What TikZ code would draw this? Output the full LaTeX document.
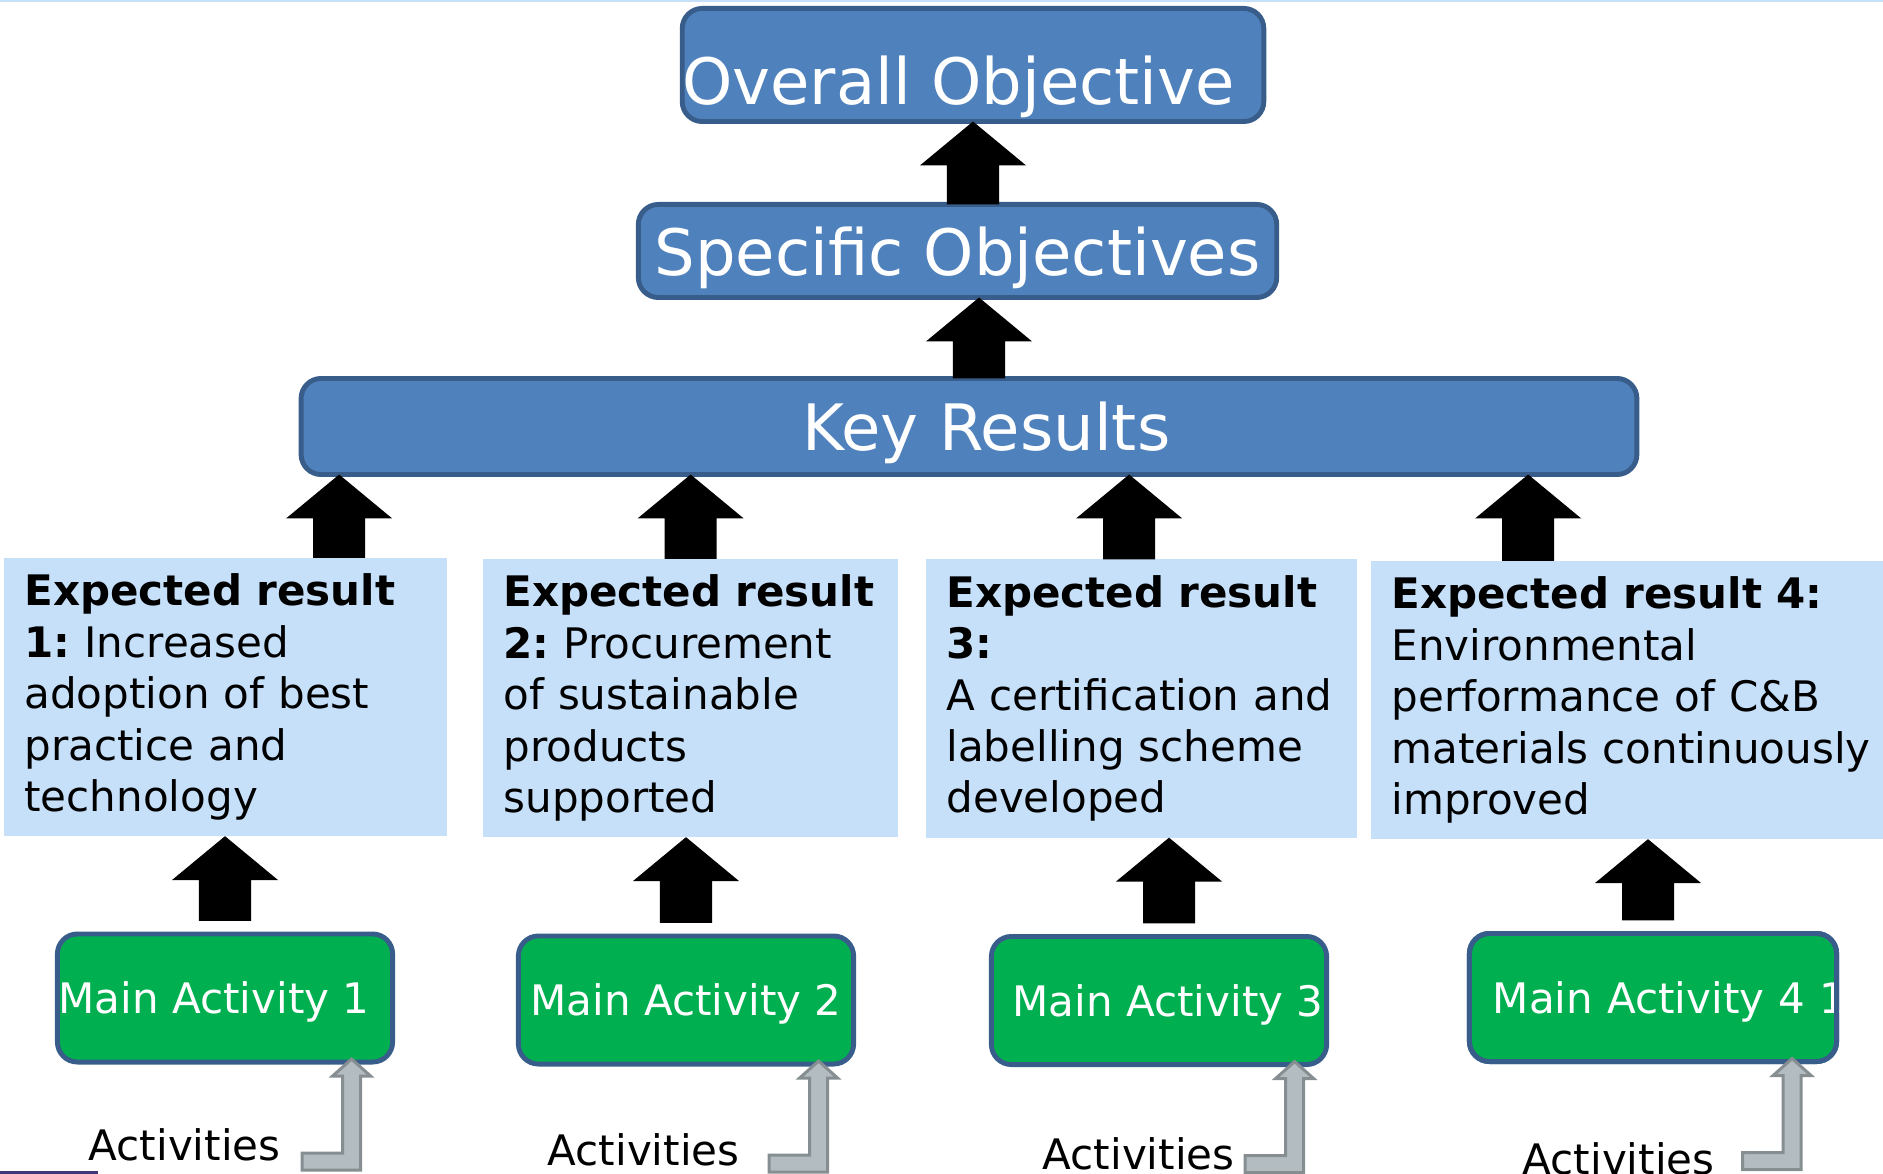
\documentclass[tikz,border=0pt]{standalone}
\usepackage{fontspec}
\setmainfont{DejaVu Sans}
\usepackage{xcolor}
\usepackage{tikz}
\usetikzlibrary{calc, positioning}
\frenchspacing

\definecolor{boxblue}{HTML}{4F81BD}
\definecolor{edgeblue}{HTML}{385D8A}
\definecolor{resblue}{HTML}{C6E0FA}
\definecolor{actgreen}{HTML}{00B050}
\definecolor{arrgrey}{HTML}{B3BCC0}
\definecolor{arrgreyedge}{HTML}{868E92}
\definecolor{barpurple}{HTML}{3E3878}

%% black block arrow: #1 lower end, #2 tip
\newcommand{\blockarrow}[2]{\fill let \p1=#1, \p2=#2 in (\x2,\y2) -- (\x2+15.1pt,\y2-12.5pt) -- (\x2+7.4pt,\y2-12.5pt) -- (\x2+7.4pt,\y1) -- (\x2-7.4pt,\y1) -- (\x2-7.4pt,\y2-12.5pt) -- (\x2-15.1pt,\y2-12.5pt) -- cycle;}
%% grey bent arrow, tip at #1
\newcommand{\actarrow}[1]{\draw[actarrow, shift={#1}] (-49.5,91) -- (-9,91) -- (-9,14) -- (-19,14) -- (0,-3) -- (19,14) -- (9,14) -- (9,108) -- (-49.5,108) -- cycle;}

\begin{document}
\begin{tikzpicture}[x=0.01cm, y=-0.01cm,
	topbox/.style={draw=edgeblue, line width=1.4pt, fill=boxblue, rounded corners=0.2cm, text=white, font=\fontsize{18.2pt}{22pt}\selectfont, inner sep=0pt, outer sep=0pt, text depth=0pt},
	resbox/.style={fill=resblue, anchor=north west, align=left, inner xsep=0.205cm, inner ysep=0pt, outer sep=0pt, minimum height=2.78cm, font=\fontsize{11.95pt}{14.6pt}\selectfont},
	mabox/.style={draw=edgeblue, line width=1.4pt, fill=actgreen, rounded corners=0.2cm, text=white, minimum width=3.35cm, minimum height=1.28cm, inner sep=0pt, outer sep=0pt, text depth=0pt, font=\fontsize{11.95pt}{14.6pt}\selectfont},
	actlabel/.style={anchor=base west, inner sep=0pt, font=\fontsize{11.95pt}{14.6pt}\selectfont},
	actarrow/.style={draw=arrgreyedge, fill=arrgrey, line width=0.85pt, line join=miter}]
		
		\useasboundingbox (0,0) rectangle (1883,1174);
		\fill[resblue] (0,0) rectangle (1883,2.5);
		\fill[barpurple] (0,1171) rectangle (98,1174);
		
		\node[topbox, minimum width=5.73cm, minimum height=1.13cm, text height=0.78cm] (overall) at (973,65) {Overall Objective\hspace*{0.29cm}};
		\node[topbox, minimum width=6.38cm, minimum height=0.93cm] (specific) at (957.5,251) {Specific Objectives};
		\node[topbox, minimum width=13.35cm, minimum height=0.96cm] (key) at (969,426.5) {\hspace*{0.35cm}Key Results};
		
		\node[resbox, text width=4.02cm, minimum width=4.43cm] (er1) at (4,558) {\textbf{Expected result}\\\textbf{1:} Increased\\adoption of best\\practice and\\technology};
		\node[resbox, text width=3.74cm, minimum width=4.15cm] (er2) at (483,559) {\textbf{Expected result}\\\textbf{2:} Procurement\\of sustainable\\products\\supported};
		\node[resbox, text width=3.90cm, minimum width=4.31cm] (er3) at (926,559.5) {\textbf{Expected result}\\\textbf{3:}\\\mbox{A certification and}\\labelling scheme\\developed};
		\node[resbox, text width=4.71cm, minimum width=5.12cm] (er4) at (1371,561) {\textbf{Expected result 4:}\\Environmental\\\mbox{performance of C\&B}\\\mbox{materials continuously}\\improved};
		
		\node[mabox] (ma1) at (225,998) {Main Activity 1\hspace*{0.22cm}};
		\node[mabox] (ma2) at (686,1000) {Main Activity 2};
		\node[mabox] (ma3) at (1159,1000.5) {\hspace*{0.18cm}Main Activity 3};
		\node[mabox, minimum width=3.67cm, text width=3.2cm, align=left, inner xsep=0.235cm] (ma4) at (1653,997.5) {\mbox{Main Activity 4 1}};
		\draw[edgeblue, line width=1.4pt, rounded corners=0.2cm] (ma4.south west) rectangle (ma4.north east);
		
		\node[actlabel] (act1) at (88,1160) {Activities};
		\node[actlabel] (act2) at (547,1165) {Activities};
		\node[actlabel] (act3) at (1042,1169) {Activities};
		\node[actlabel] (act4) at (1522,1174) {Activities};
		
		%% up arrows
		\blockarrow{(overall.south |- specific.north)}{(overall.south)}
		\path (specific.south) ++(21.5,0) coordinate (s1);
		\blockarrow{(s1 |- key.north)}{(s1)}
		
		\foreach \i/\dx in {1/113.5, 2/0, 3/-12.5, 4/-99}{
			\path (er\i.north) ++(\dx,0) coordinate (k\i);
			\blockarrow{(k\i)}{(k\i |- key.south)}
		}
		
		\foreach \i/\dx in {1/0, 2/0, 3/10, 4/-5}{
			\path (ma\i.north) ++(\dx,-13) coordinate (m\i);
			\blockarrow{(m\i)}{(m\i |- er\i.south)}
		}
		
		%% activities into main activities
		\actarrow{([xshift=-0.41cm]ma1.south east)}
		\actarrow{([xshift=-0.35cm]ma2.south east)}
		\actarrow{([xshift=-0.32cm]ma3.south east)}
		\actarrow{([xshift=-0.445cm]ma4.south east)}
		
		\end{tikzpicture}
\end{document}
